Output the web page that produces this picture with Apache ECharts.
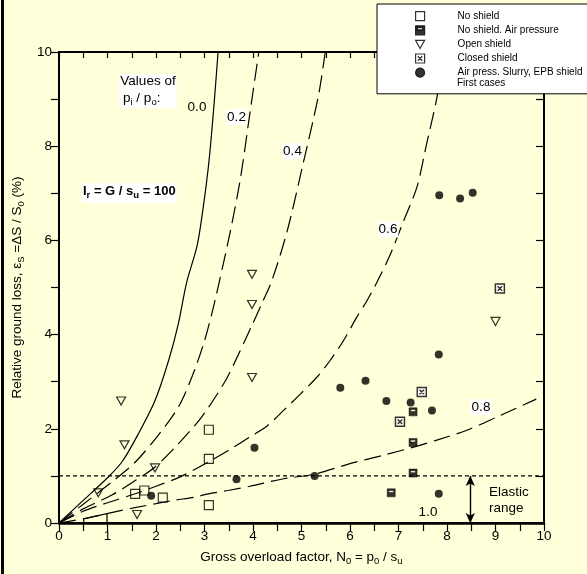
<!DOCTYPE html>
<html><head><meta charset="utf-8">
<script src="https://cdn.jsdelivr.net/npm/echarts@6/dist/echarts.min.js"></script>
<style>html,body{margin:0;padding:0;background:#ffffd9}#c{width:587px;height:574px}</style>
</head><body><div id="c"></div>
<script>
// Computed-curve traces (x = N0, y = ground loss %)
const curve00 = [[0,0],[0.5,0.48],[1.0,0.96],[1.3,1.3],[1.64,1.9],[1.98,2.6],[2.26,3.45],[2.46,4.23],[2.63,5.1],[2.85,5.9],[2.98,6.75],[3.09,7.66],[3.19,8.8],[3.28,10]];
const curve02 = [[0,0],[0.5,0.4],[1.1,0.88],[1.57,1.29],[2.02,1.83],[2.46,2.46],[2.74,3.1],[2.98,3.8],[3.15,4.44],[3.3,5.1],[3.53,6.18],[3.74,7.31],[3.94,8.73],[4.12,10]];
const curve04 = [[0,0],[0.5,0.3],[1.1,0.6],[1.57,0.9],[1.98,1.19],[2.46,1.68],[2.94,2.25],[3.42,3.0],[3.7,3.58],[3.98,4.2],[4.2,4.7],[4.39,5.15],[4.7,6.18],[5.04,7.66],[5.35,9.08],[5.49,10]];
const curve06 = [[0,0],[0.5,0.25],[1.0,0.43],[1.57,0.62],[2.0,0.78],[2.5,0.98],[3.05,1.28],[3.49,1.54],[3.94,1.83],[4.29,2.06],[4.63,2.39],[4.97,2.73],[5.32,3.1],[5.59,3.45],[5.87,3.88],[6.14,4.37],[6.35,4.72],[6.55,5.1],[6.83,5.7],[7.1,6.4],[7.38,7.13],[7.58,8.05],[7.78,8.97],[7.95,10]];
const curve08 = [[0,0],[0.51,0.09],[0.99,0.2],[1.54,0.32],[2.0,0.41],[2.36,0.48],[2.8,0.55],[3.08,0.62],[3.49,0.69],[3.94,0.78],[4.63,0.94],[5.28,1.04],[6.0,1.26],[6.69,1.44],[7.31,1.61],[7.79,1.76],[8.41,1.97],[9.03,2.25],[9.84,2.63]];
const smallBox = [[0.51,0],[0.51,0.09],[0.99,0.2],[0.99,0]];
const elasticLimit = [[0,1],[10,1]];
const elasticArrowX = 8.48;

// Case records
const noShield = [[3.09,1.98],[3.09,1.36],[3.09,0.38],[1.57,0.62],[1.76,0.69],[2.14,0.54]];
const noShieldAir = [[7.3,2.36],[7.3,1.71],[7.3,1.06],[6.85,0.64]];
const openShield = [[1.28,2.59],[1.35,1.66],[0.81,0.64],[1.98,1.17],[1.61,0.18],[3.98,5.28],[3.98,4.64],[3.98,3.09],[9.0,4.28]];
const closedShield = [[7.48,2.78],[7.03,2.15],[9.09,4.98]];
const airPressEPB = [[1.9,0.58],[3.66,0.93],[4.03,1.6],[5.27,1.0],[5.8,2.87],[6.32,3.02],[6.75,2.59],[7.25,2.56],[7.69,2.39],[7.83,0.62],[7.83,3.58],[7.84,6.96],[8.27,6.89],[8.53,7.01]];

const seriesNames = ['No shield','No shield. Air pressure','Open shield','Closed shield','Air press. Slurry, EPB shield'];
const TRI_DOWN = 'path://M0,0L10,0L5,9Z';

const F = 'Liberation Sans, Arial, sans-serif';
const FS = 13.5;
const subRich = { s: { fontSize: 9.5, fontFamily: F, color: '#000', verticalAlign: 'bottom', lineHeight: 9 } };
const chart = echarts.init(document.getElementById('c'), null, { renderer: 'canvas' });

const curve = (name, data, type) => ({
  type: 'line', name, data, symbol: 'none', smooth: 0.3, silent: true, z: 2,
  lineStyle: { color: '#000', width: 1.2, type }
});
const DASH = [17, 7];
const lbl = (text, x, y, bg, align) => ({
  type: 'text', x, y, z: 4,
  style: Object.assign({ text, font: FS + 'px ' + F, fill: '#000', align: align || 'center', verticalAlign: 'middle' },
    bg ? { backgroundColor: '#fff', padding: [1, 1] } : {})
});
const tick = (len) => ({ inside: true, length: len, lineStyle: { color: '#000', width: 1.2 } });
const line2 = { lineStyle: { color: '#000', width: 2 } };

const option = {
  backgroundColor: '#ffffd9',
  animation: false,
  grid: { left: 59, right: 43, top: 52, bottom: 51, show: true, borderColor: '#000', borderWidth: 2, backgroundColor: 'transparent' },
  xAxis: [
    { type: 'value', min: 0, max: 10, interval: 0.5, position: 'bottom',
      axisLine: { lineStyle: { color: '#000', width: 2.5 } },
      axisTick: { show: false },
      axisLabel: { formatter: v => (Number.isInteger(v) ? String(v) : ''), color: '#000', fontSize: FS, fontFamily: F, margin: 6 },
      splitLine: { show: false },
      name: 'Gross overload factor, N{s|0} = p{s|0} / s{s|u}', nameLocation: 'middle', nameGap: 25,
      nameTextStyle: { color: '#000', fontSize: FS, fontFamily: F, lineHeight: 18, rich: subRich } },
    // tick axis that settles on zero (bottom edge), ticks pointing into the plot
    { type: 'value', min: 0, max: 10, interval: 0.5, position: 'top',
      axisLine: Object.assign({ show: true, onZero: true }, line2),
      axisTick: tick(8), axisLabel: { show: false }, splitLine: { show: false } },
    // tick axis along the top edge
    { type: 'value', min: 0, max: 10, interval: 0.5, position: 'top',
      axisLine: Object.assign({ show: true, onZero: false }, line2),
      axisTick: tick(6), axisLabel: { show: false }, splitLine: { show: false } }
  ],
  yAxis: [
    { type: 'value', min: 0, max: 10, interval: 2, position: 'left',
      axisLine: { lineStyle: { color: '#000', width: 2 } },
      axisTick: { show: false },
      axisLabel: { color: '#000', fontSize: FS, fontFamily: F, margin: 7 },
      splitLine: { show: false },
      name: 'Relative ground loss, ε{s|S} =ΔS / S{s|0} (%)', nameLocation: 'middle', nameGap: 31,
      nameTextStyle: { color: '#000', fontSize: FS, fontFamily: F, lineHeight: 18, rich: subRich } },
    // tick axis that settles on zero (left edge), ticks pointing into the plot
    { type: 'value', min: 0, max: 10, interval: 1, position: 'right',
      axisLine: Object.assign({ show: true, onZero: true }, line2),
      axisTick: tick(8), axisLabel: { show: false }, splitLine: { show: false } },
    // tick axis along the right edge
    { type: 'value', min: 0, max: 10, interval: 1, position: 'right',
      axisLine: Object.assign({ show: true, onZero: false }, line2),
      axisTick: tick(8), axisLabel: { show: false }, splitLine: { show: false } }
  ],
  legend: {
    data: [seriesNames[0], seriesNames[1], { name: seriesNames[2], icon: TRI_DOWN }, seriesNames[3], seriesNames[4]],
    orient: 'vertical', left: 377, top: 4,
    backgroundColor: '#fff', borderColor: '#000', borderWidth: 1, borderRadius: 0,
    padding: [7, 60, 16, 38], itemWidth: 9, itemHeight: 9, itemGap: 4,
    textStyle: { color: '#000', fontSize: 10, fontFamily: F, padding: [0, 0, 0, 28] },
    itemStyle: { borderColor: '#000', borderWidth: 1.2 },
    selectedMode: false
  },
  series: [
    curve('p00', curve00, 'solid'),
    curve('p02', curve02, DASH),
    curve('p04', curve04, DASH),
    curve('p06', curve06, DASH),
    curve('p08', curve08, DASH),
    { type: 'line', name: 'box', data: smallBox, symbol: 'none', silent: true, z: 2,
      lineStyle: { color: '#000', width: 1.2 } },
    { type: 'line', name: 'elastic', data: elasticLimit, symbol: 'none', silent: true, z: 2,
      lineStyle: { color: '#000', width: 1.2, type: [4, 3] },
      markLine: { silent: true, symbol: ['arrow', 'arrow'], symbolSize: [7, 10],
        lineStyle: { color: '#000', width: 1.4, type: 'solid' }, label: { show: false },
        data: [[{ coord: [elasticArrowX, 0] }, { coord: [elasticArrowX, 1] }]] } },
    { type: 'scatter', name: seriesNames[0], data: noShield, symbol: 'rect', symbolSize: 9, z: 5,
      itemStyle: { color: 'rgba(255,255,255,0)', borderColor: '#000', borderWidth: 1.2 } },
    { type: 'scatter', name: seriesNames[1], data: noShieldAir,
      symbol: 'path://M0,0H10V10H0Z M2,2V4.5H8V2Z', symbolSize: 8, z: 5,
      itemStyle: { color: '#000', borderColor: '#000', borderWidth: 0.6 } },
    { type: 'scatter', name: seriesNames[2], data: openShield, symbol: TRI_DOWN,
      symbolSize: [9, 8], z: 5,
      itemStyle: { color: 'rgba(255,255,255,0)', borderColor: '#000', borderWidth: 1.2 } },
    { type: 'scatter', name: seriesNames[3], data: closedShield,
      symbol: 'path://M0,0H10V10H0Z M2.5,2.5L7.5,7.5M7.5,2.5L2.5,7.5', symbolSize: 9, z: 5,
      itemStyle: { color: '#fff', borderColor: '#000', borderWidth: 1.5 } },
    { type: 'scatter', name: seriesNames[4], data: airPressEPB, symbol: 'circle', symbolSize: 8, z: 5,
      itemStyle: { color: '#000' } }
  ],
  graphic: [
    { type: 'rect', shape: { x: 1, y: 0, width: 3, height: 574 }, style: { fill: '#000' }, silent: true },
    { type: 'rect', shape: { x: 119, y: 74, width: 58, height: 34 }, style: { fill: '#fff' }, silent: true, z: 3 },
    lbl('Values of', 148, 81, false),
    { type: 'text', x: 123, y: 98, z: 4, style: { text: 'p{s|i} / p{s|o}:', font: FS + 'px ' + F, fill: '#000', align: 'left', verticalAlign: 'middle', lineHeight: 18, rich: subRich } },
    lbl('0.0', 197, 107, false),
    lbl('0.2', 236.5, 117, true),
    lbl('0.4', 292.5, 151, true),
    lbl('0.6', 388, 229.5, true),
    lbl('0.8', 481, 407, true),
    lbl('1.0', 428, 512, false),
    { type: 'rect', shape: { x: 82, y: 183, width: 95, height: 20 }, style: { fill: '#fff' }, silent: true, z: 3 },
    { type: 'text', x: 83, y: 191, z: 4, style: { text: 'I{b|r} = G / s{b|u} = 100', font: 'bold 13px ' + F, fill: '#000', align: 'left', verticalAlign: 'middle', lineHeight: 18,
      rich: { b: { fontSize: 9.5, fontWeight: 'bold', fontFamily: F, color: '#000', verticalAlign: 'bottom', lineHeight: 9 } } } },
    lbl('Elastic', 489, 492, false, 'left'),
    lbl('range', 489, 508, false, 'left'),
    { type: 'text', x: 457, y: 83, z: 100, style: { text: 'First cases', font: '10px ' + F, fill: '#000', align: 'left', verticalAlign: 'middle' } }
  ]
};
chart.setOption(option);
</script>
</body></html>
